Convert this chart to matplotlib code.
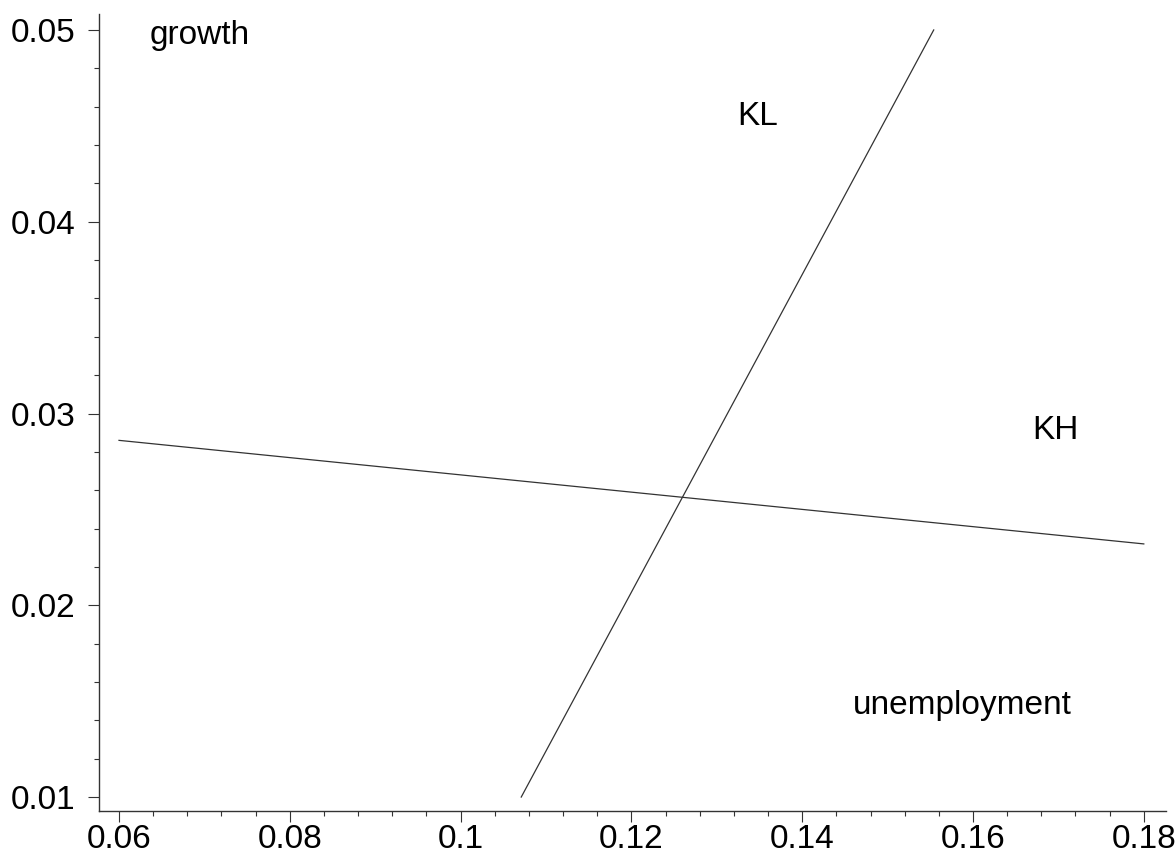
import matplotlib
matplotlib.use("Agg")
import matplotlib.pyplot as plt
from matplotlib.ticker import MultipleLocator, FuncFormatter

plt.rcParams['font.family'] = ['Liberation Sans', 'DejaVu Sans']

# Line endpoints (unemployment, growth)
kl_x = [0.1071, 0.1554]
kl_y = [0.0100, 0.0500]
kh_x = [0.0600, 0.1800]
kh_y = [0.0286, 0.0232]

# Annotations: (text, x, y)
labels = ["growth", "KL", "KH", "unemployment"]
label_x = [0.0636, 0.1324, 0.1669, 0.1459]
label_y = [0.0497, 0.0455, 0.0291, 0.0148]

fig = plt.figure(figsize=(11.76, 8.56), dpi=100)
ax = fig.add_axes([0.0842, 0.0525, 0.9073, 0.9311])

ax.plot(kl_x, kl_y, color='#333333', lw=0.9)
ax.plot(kh_x, kh_y, color='#333333', lw=0.9)

for t, x, y in zip(labels, label_x, label_y):
    ax.text(x, y, t, fontsize=24, ha='left', va='center', color='black')

ax.set_xlim(0.05766, 0.1826)
ax.set_ylim(0.00927, 0.05083)

ax.spines['top'].set_visible(False)
ax.spines['right'].set_visible(False)
for s in ('left', 'bottom'):
    ax.spines[s].set_linewidth(1.0)
    ax.spines[s].set_color('#333333')

ax.xaxis.set_major_locator(MultipleLocator(0.02))
ax.xaxis.set_minor_locator(MultipleLocator(0.004))
ax.yaxis.set_major_locator(MultipleLocator(0.01))
ax.yaxis.set_minor_locator(MultipleLocator(0.002))

def fmt(v, pos):
    s = f"{v:.2f}"
    return s.rstrip('0') if s.endswith('0') and not s.endswith('.00') else s

ax.xaxis.set_major_formatter(FuncFormatter(fmt))
ax.yaxis.set_major_formatter(FuncFormatter(lambda v, p: f"{v:.2f}"))

ax.tick_params(axis='both', which='major', direction='out', length=8, width=0.8,
               labelsize=24, color='#333333')
ax.tick_params(axis='both', which='minor', direction='out', length=3.5, width=0.8,
               color='#333333')
ax.tick_params(axis='y', which='major', pad=9)
ax.tick_params(axis='x', which='major', pad=1)

fig.savefig("out.png", dpi=100)
